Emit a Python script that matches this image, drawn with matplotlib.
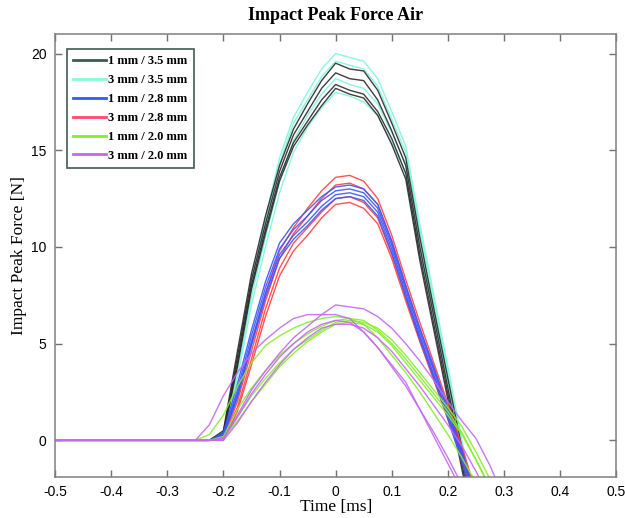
import matplotlib
matplotlib.use("Agg")
import matplotlib.pyplot as plt

# time axis shared by all curves [ms]
tiempo = [-0.5, -0.25, -0.225, -0.2, -0.175, -0.15, -0.125, -0.1, -0.075, -0.05, -0.025, 0.0,
          0.025, 0.05, 0.075, 0.1, 0.125, 0.15, 0.175, 0.2, 0.225, 0.25, 0.275, 0.3]

# 1 mm / 3.5 mm
preto = [
    [0, 0, 0, 0.5, 4.6, 8.6, 11.6, 14.2, 16.1, 17.4, 18.6, 19.5, 19.2, 19.1, 18.1, 16.4, 14.6, 10.5, 6.8, 3.2, -0.4, -4, -8, -12],
    [0, 0, 0, 0.4, 4.3, 8.3, 11.2, 13.9, 15.8, 17.0, 18.2, 19.0, 18.7, 18.6, 17.6, 16.0, 14.2, 10.0, 6.4, 2.7, -0.9, -4.5, -8, -12],
    [0, 0, 0, 0.3, 4.0, 8.0, 10.9, 13.6, 15.4, 16.5, 17.6, 18.4, 18.1, 17.9, 17.0, 15.6, 13.8, 9.6, 6.0, 2.4, -1.2, -5, -8, -12],
    [0, 0, 0, 0.3, 3.8, 7.8, 10.7, 13.4, 15.2, 16.3, 17.3, 18.2, 17.9, 17.7, 16.8, 15.3, 13.5, 9.3, 5.7, 2.1, -1.5, -5, -8, -12],
]
# 3 mm / 3.5 mm
ciano = [
    [0, 0, 0, 0.2, 4.0, 8.1, 11.5, 14.6, 16.7, 18.0, 19.2, 20.0, 19.8, 19.6, 18.7, 17.0, 15.2, 11.2, 7.5, 3.8, 0.0, -3.5, -7, -11],
    [0, 0, 0, 0.2, 3.9, 7.9, 11.2, 14.3, 16.4, 17.6, 18.8, 19.6, 19.4, 19.2, 18.3, 16.6, 14.9, 10.9, 7.2, 3.5, -0.2, -3.8, -7, -11],
    [0, 0, 0, 0.1, 3.5, 7.4, 10.5, 13.4, 15.5, 16.8, 17.9, 18.7, 18.4, 18.2, 17.4, 15.9, 14.3, 10.4, 6.8, 3.2, -0.4, -4, -7, -11],
    [0, 0, 0, 0.1, 3.2, 7.0, 10.0, 12.8, 14.9, 16.2, 17.2, 18.0, 17.8, 17.5, 16.8, 15.4, 13.8, 10.0, 6.5, 2.9, -0.6, -4, -7, -11],
]
# 1 mm / 2.8 mm
azul = [
    [0, 0, 0, 0.4, 2.9, 5.7, 8.2, 10.2, 11.2, 11.9, 12.6, 13.1, 13.2, 13.0, 12.2, 10.3, 8.0, 5.8, 3.8, 1.7, -0.5, -3, -6, -9],
    [0, 0, 0, 0.3, 2.6, 5.4, 7.9, 9.9, 10.9, 11.6, 12.4, 12.9, 13.0, 12.8, 12.0, 10.1, 7.8, 5.6, 3.6, 1.5, -0.7, -3, -6, -9],
    [0, 0, 0, 0.3, 2.4, 5.1, 7.6, 9.6, 10.6, 11.3, 12.1, 12.7, 12.8, 12.6, 11.8, 9.9, 7.6, 5.4, 3.4, 1.3, -0.9, -3, -6, -9],
    [0, 0, 0, 0.2, 2.2, 4.9, 7.4, 9.4, 10.4, 11.1, 11.9, 12.5, 12.6, 12.4, 11.6, 9.7, 7.4, 5.2, 3.2, 1.1, -1.1, -3.5, -6, -9],
]
# 3 mm / 2.8 mm
vermelho = [
    [0, 0, 0, 0.2, 2.3, 5.0, 7.6, 9.8, 11.0, 12.0, 12.9, 13.6, 13.7, 13.4, 12.5, 10.6, 8.3, 6.1, 4.0, 1.9, -0.3, -2.7, -6, -9],
    [0, 0, 0, 0.1, 2.0, 4.6, 7.2, 9.4, 10.7, 11.6, 12.5, 13.2, 13.3, 13.0, 12.2, 10.3, 8.0, 5.8, 3.7, 1.6, -0.5, -2.9, -6, -9],
    [0, 0, 0, 0.1, 1.7, 4.2, 6.8, 8.9, 10.2, 11.0, 11.8, 12.5, 12.6, 12.3, 11.5, 9.6, 7.4, 5.3, 3.3, 1.3, -0.8, -3.2, -6, -9],
    [0, 0, 0, 0.0, 1.5, 3.9, 6.4, 8.5, 9.8, 10.6, 11.5, 12.2, 12.3, 12.0, 11.2, 9.4, 7.2, 5.1, 3.1, 1.1, -1.0, -3.4, -6, -9],
]
# 1 mm / 2.0 mm
verde = [
    [0, 0, 0.3, 1.3, 2.8, 4.0, 4.9, 5.4, 5.8, 6.1, 6.3, 6.4, 6.3, 6.0, 5.3, 4.4, 3.5, 2.5, 1.4, 0.3, -0.9, -2.2, -3.5, -5],
    [0, 0, 0, 0.2, 1.6, 2.7, 3.6, 4.4, 5.0, 5.5, 5.9, 6.2, 6.3, 6.2, 5.7, 5.0, 4.2, 3.3, 2.4, 1.5, 0.4, -1.0, -2.5, -4],
    [0, 0, 0, 0.1, 1.2, 2.3, 3.2, 4.0, 4.7, 5.2, 5.7, 6.1, 6.2, 6.1, 5.8, 5.2, 4.4, 3.5, 2.6, 1.7, 0.7, -0.6, -2.0, -3.5],
    [0, 0, 0, 0.1, 1.0, 2.0, 2.9, 3.8, 4.5, 5.1, 5.6, 6.0, 6.1, 6.0, 5.6, 4.9, 4.0, 3.1, 2.2, 1.3, 0.3, -1.0, -2.4, -4],
]
# 3 mm / 2.0 mm
roxo = [
    [0, 0, 0.8, 2.3, 3.5, 4.5, 5.2, 5.8, 6.3, 6.5, 6.5, 6.5, 6.3, 5.6, 4.8, 3.9, 3.0, 1.6, 0.2, -1.2, -2.6, -4, -5.5, -7],
    [0, 0, 0, 0.1, 1.3, 2.6, 3.6, 4.5, 5.3, 5.9, 6.5, 7.0, 6.9, 6.8, 6.4, 5.8, 5.0, 4.1, 3.1, 2.0, 1.0, 0.1, -1.3, -3],
    [0, 0, 0, 0.1, 1.2, 2.4, 3.4, 4.3, 5.0, 5.6, 6.0, 6.2, 6.1, 5.6, 4.8, 3.8, 2.8, 1.6, 0.4, -0.9, -2.3, -3.7, -5, -6.5],
    [0, 0, 0, 0.0, 0.9, 2.0, 3.0, 3.9, 4.7, 5.3, 5.8, 6.0, 6.0, 5.8, 5.3, 4.6, 3.7, 2.8, 1.8, 0.8, -0.3, -1.6, -3, -4.5],
]

grupos = [preto, ciano, azul, vermelho, verde, roxo]
nomes = ["1 mm / 3.5 mm", "3 mm / 3.5 mm", "1 mm / 2.8 mm",
         "3 mm / 2.8 mm", "1 mm / 2.0 mm", "3 mm / 2.0 mm"]
cores = ["#2a2a2a", "#7ff5dc", "#3a55ff", "#ff4040", "#86ee2a", "#c468f2"]
cores_legenda = ["#3f5a52", "#8ff5dc", "#3a55ff", "#ff4a6a", "#86ee2a", "#c468f2"]

fig = plt.figure(figsize=(6.25, 5.18), dpi=100)
ax = fig.add_axes([0.088, 0.079, 0.898, 0.855])

# draw the light groups first so dark lines stay visible
ordem = [1, 0, 3, 2, 4, 5]
for i in ordem:
    for curva in grupos[i]:
        ax.plot(tiempo, curva, color=cores[i], linewidth=1.0, alpha=0.9)

handles = []
for i in range(6):
    h, = ax.plot([], [], color=cores_legenda[i], linewidth=2.0, label=nomes[i])
    handles.append(h)

ax.set_xlim(-0.5, 0.5)
ax.set_ylim(-1.9, 21)
ax.set_xticks([-0.5, -0.4, -0.3, -0.2, -0.1, 0, 0.1, 0.2, 0.3, 0.4, 0.5])
ax.set_xticklabels(["-0.5", "-0.4", "-0.3", "-0.2", "-0.1", "0", "0.1", "0.2", "0.3", "0.4", "0.5"])
ax.set_yticks([0, 5, 10, 15, 20])

ax.tick_params(direction="in", top=True, right=True, length=5, width=1,
               color="#707070", labelsize=10, pad=6)
for lab in ax.get_xticklabels() + ax.get_yticklabels():
    lab.set_family("Liberation Sans")
for s in ax.spines.values():
    s.set_color("#808080")
    s.set_linewidth(1.1)

ax.set_title("Impact Peak Force Air", family="Liberation Serif",
             fontweight="bold", fontsize=13, pad=10)
ax.set_xlabel("Time [ms]", family="Liberation Serif", fontsize=12.5, labelpad=0)
ax.set_ylabel("Impact Peak Force [N]", family="Liberation Serif", fontsize=12.5, labelpad=3)

leg = ax.legend(handles=handles, loc="upper left", bbox_to_anchor=(0.021, 0.966),
                prop={"family": "Liberation Serif", "weight": "bold", "size": 9},
                fancybox=False, framealpha=1, edgecolor="#3f5a52",
                handlelength=2.6, handletextpad=0.2, labelspacing=0.55,
                borderpad=0.5, borderaxespad=0)
leg.get_frame().set_linewidth(1.2)

fig.savefig("out.png", dpi=100)
